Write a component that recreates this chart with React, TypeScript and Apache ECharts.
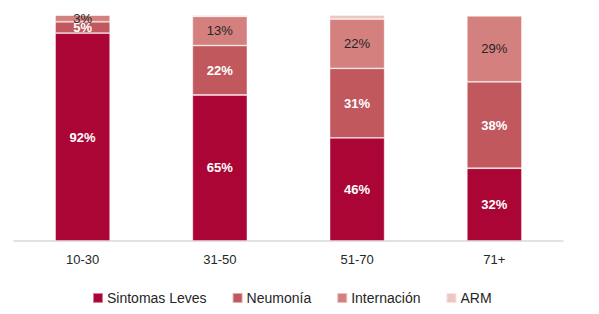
import React, { useEffect, useRef } from "react";
import * as echarts from "echarts";

const categories = ["10-30", "31-50", "51-70", "71+"];
const seriesNames = ["Sintomas Leves", "Neumonía", "Internación", "ARM"];
const sintomas = [92, 65, 46, 32];
const neumonia = [5, 22, 31, 38];
const internacion = [3, 13, 22, 29];
const arm = [0, 0.6, 1.8, 0.4];
const colors = ["#AB0535", "#C0585E", "#D4807E", "#EEC7C1"];
const labelColors = ["#ffffff", "#ffffff", "#262626", "#262626"];
const labelWeights = ["bold", "bold", "normal", "normal"];

export default function App() {
  const ref = useRef<HTMLDivElement>(null);
  useEffect(() => {
    if (!ref.current) return;
    const chart = echarts.init(ref.current, null, { renderer: "svg" });
    const raw = [sintomas, neumonia, internacion, arm];
    const totals = categories.map((_, i) => raw.reduce((s, arr) => s + arr[i], 0));
    const font = "Liberation Sans, Arial, sans-serif";
    chart.setOption({
      animation: false,
      grid: { left: 14, right: 36, top: 15, bottom: 73 },
      legend: {
        left: 87,
        top: 286,
        itemWidth: 10,
        itemHeight: 10,
        itemGap: 25,
        icon: "rect",
        textStyle: { fontFamily: font, fontSize: 14, color: "#262626", padding: [0, 0, 0, -1] },
        data: seriesNames,
      },
      xAxis: {
        type: "category",
        data: categories,
        axisLine: { lineStyle: { color: "#D9D9D9", width: 1.5 } },
        axisTick: { show: false },
        axisLabel: { fontFamily: font, fontSize: 13, color: "#262626", margin: 12 },
      },
      yAxis: { type: "value", min: 0, max: 100, show: false, splitLine: { show: false } },
      series: raw.map((arr, si) => ({
        name: seriesNames[si],
        type: "bar",
        stack: "total",
        barWidth: 55,
        data: arr.map((v, i) => ({ value: (v / totals[i]) * 100, raw: v })),
        itemStyle: { color: colors[si], borderColor: "rgba(255,255,255,0.5)", borderWidth: 0.8 },
        label: {
          show: si < 3,
          position: "inside",
          fontFamily: font,
          fontSize: 13,
          fontWeight: labelWeights[si],
          color: labelColors[si],
          formatter: (p: any) => (p.data.raw > 0 ? `${p.data.raw}%` : ""),
        },
      })),
    });
    return () => chart.dispose();
  }, []);
  return <div ref={ref} style={{ width: 599, height: 314, margin: -8 }} />;
}
